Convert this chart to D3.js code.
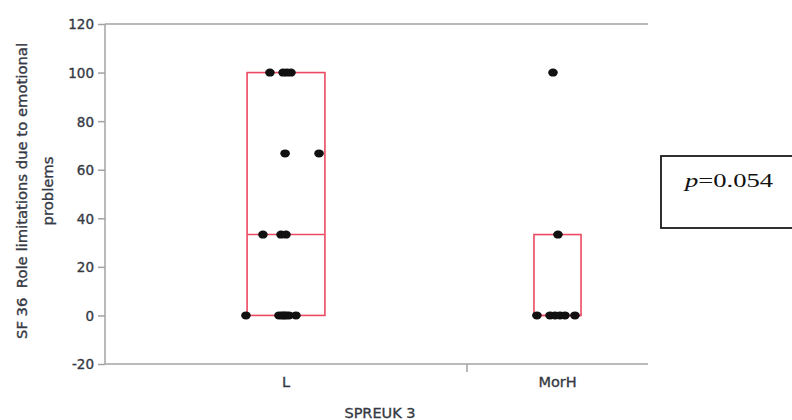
<!DOCTYPE html>
<html>
<head>
<meta charset="utf-8">
<script src="https://cdn.jsdelivr.net/npm/d3@7"></script>
<style>
  body { margin: 0; background: #fff; }
  .tick text, .lbl { font-family: "DejaVu Sans", "Noto Sans", sans-serif; fill: #363a44; stroke: #363a44; stroke-width: 0.35px; }
</style>
</head>
<body>
<div id="chart"></div>
<script>
// categories and how many observations each has (JMP band width follows n)
var categories = ["L", "MorH"];
var counts = [16, 8];
var yTicks = [-20, 0, 20, 40, 60, 80, 100, 120];

var lValues = [100, 100, 100, 100, 66.7, 66.7, 33.3, 33.3, 33.3, 0, 0, 0, 0, 0, 0, 0];
var lJitter = [7.29, 7.87, 8.04, 8.22, 7.96, 9.46, 6.98, 7.78, 8.0, 6.23, 7.69, 7.82, 7.91, 8.0, 8.13, 8.44];
var morhValues = [100, 33.3, 0, 0, 0, 0, 0, 0];
var morhJitter = [19.8, 20.02, 19.09, 19.67, 19.89, 20.11, 20.33, 20.77];

// box plot stats
var q1 = [0, 0];
var median = [33.3, 0];
var q3 = [100, 33.3];

var pText = "0.054";

var margin = { top: 24, right: 144, bottom: 56, left: 105 },
  width = 792 - margin.left - margin.right,
  height = 420 - margin.top - margin.bottom;

var svg = d3.select("#chart").append("svg")
  .attr("width", 792)
  .attr("height", 420);

var g = svg.append("g")
  .attr("transform", "translate(" + margin.left + "," + margin.top + ")");

var total = d3.sum(counts);
var x = d3.scaleLinear().domain([0, total]).range([0, width]);
var y = d3.scaleLinear().domain([-20, 120]).range([height, 0]);

var starts = [0, counts[0]];
var centers = counts.map(function(c, i) { return starts[i] + c / 2; });
var boxFrac = [0.215, 0.26];

var axisColor = "#a3a3a3";

// left axis
var yAxis = g.append("g")
  .call(d3.axisLeft(y).tickValues(yTicks).tickSize(7).tickPadding(4)
    .tickFormat(function(d) { return String(d); }));
yAxis.select(".domain").remove();
yAxis.selectAll("line").attr("stroke", axisColor).attr("stroke-width", 1.5);
yAxis.selectAll("text").attr("font-size", 13.5).attr("dy", "0.36em");

g.append("line")
  .attr("x1", 0).attr("x2", 0).attr("y1", 0).attr("y2", height)
  .attr("stroke", axisColor).attr("stroke-width", 1.5);
// top frame line
g.append("line")
  .attr("x1", 0).attr("x2", width).attr("y1", 0).attr("y2", 0)
  .attr("stroke", axisColor).attr("stroke-width", 1.5);
// bottom axis
g.append("line")
  .attr("x1", 0).attr("x2", width).attr("y1", height).attr("y2", height)
  .attr("stroke", axisColor).attr("stroke-width", 1.5);
g.append("line")
  .attr("x1", x(starts[1])).attr("x2", x(starts[1]))
  .attr("y1", height).attr("y2", height + 8)
  .attr("stroke", axisColor).attr("stroke-width", 1.5);

g.selectAll(".catlbl")
  .data(categories)
  .enter().append("text")
  .attr("class", "lbl catlbl")
  .attr("x", function(d, i) { return x(centers[i]); })
  .attr("y", height + 23)
  .attr("text-anchor", "middle")
  .attr("font-size", 14.5)
  .text(function(d) { return d; });

// boxes
categories.forEach(function(c, i) {
  var hw = counts[i] * boxFrac[i] / 2;
  var bx0 = x(centers[i] - hw), bx1 = x(centers[i] + hw);
  g.append("rect")
    .attr("x", bx0).attr("y", y(q3[i]))
    .attr("width", bx1 - bx0).attr("height", y(q1[i]) - y(q3[i]))
    .attr("fill", "none").attr("stroke", "#ec4a62").attr("stroke-width", 1.6);
  g.append("line")
    .attr("x1", bx0).attr("x2", bx1)
    .attr("y1", y(median[i])).attr("y2", y(median[i]))
    .attr("stroke", "#ec4a62").attr("stroke-width", 1.6);
});

// points
var pts = lValues.map(function(v, i) { return [lJitter[i], v]; })
  .concat(morhValues.map(function(v, i) { return [morhJitter[i], v]; }));

g.selectAll(".pt")
  .data(pts)
  .enter().append("ellipse")
  .attr("class", "pt")
  .attr("cx", function(d) { return x(d[0]); })
  .attr("cy", function(d) { return y(d[1]); })
  .attr("rx", 4.8)
  .attr("ry", 4)
  .attr("fill", "#111");

// axis titles
var yt = svg.append("text")
  .attr("class", "lbl")
  .attr("transform", "translate(27,191) rotate(-90)")
  .attr("text-anchor", "middle")
  .attr("font-size", 14.8);
yt.append("tspan").attr("x", 0).attr("dy", 0).text("SF 36\u00a0 Role limitations due to emotional");
yt.append("tspan").attr("x", 0).attr("dy", 26).text("problems");

svg.append("text")
  .attr("class", "lbl")
  .attr("x", 380)
  .attr("y", 418)
  .attr("text-anchor", "middle")
  .attr("font-size", 14.5)
  .text("SPREUK 3");

// p-value box
svg.append("rect")
  .attr("x", 661).attr("y", 156)
  .attr("width", 140).attr("height", 72)
  .attr("fill", "#fff").attr("stroke", "#1a1a1a").attr("stroke-width", 1.8);

var pt = svg.append("text")
  .attr("transform", "translate(685,187) scale(1.4,1)")
  .attr("font-family", "'Liberation Serif', 'Times New Roman', serif")
  .attr("font-size", 19)
  .attr("fill", "#111");
pt.append("tspan").attr("font-style", "italic").text("p");
pt.append("tspan").text("=" + pText);
</script>
</body>
</html>
